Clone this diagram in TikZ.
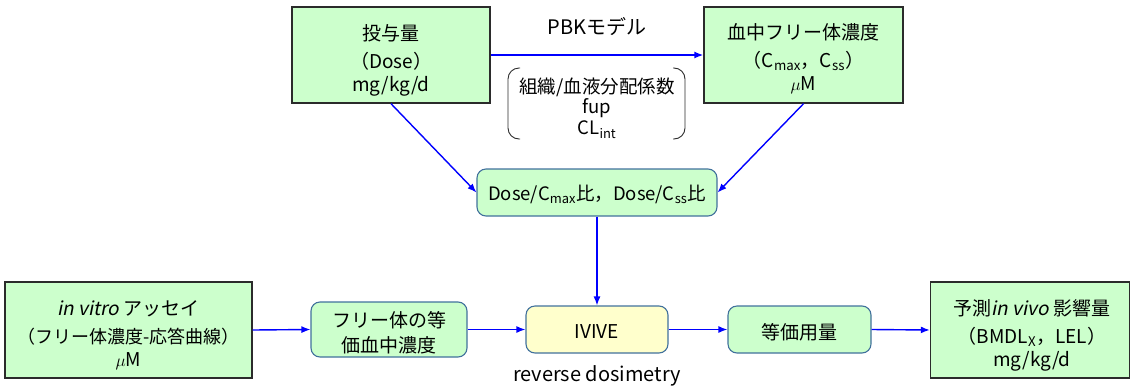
\documentclass[tikz,border=0pt]{standalone}
\usepackage{fontspec}
\setmainfont{Noto Sans CJK JP}
\newfontfamily\slantjp{Noto Sans CJK JP}[FakeSlant=0.2]
\usetikzlibrary{arrows.meta}
\definecolor{boxgreen}{HTML}{CCFFCC}
\definecolor{boxyellow}{HTML}{FFFFCC}
\definecolor{rimblue}{HTML}{41719C}
\definecolor{rimdark}{HTML}{2B2B2B}
\definecolor{flowblue}{HTML}{0000FF}
\newcommand{\iv}[1]{{\slantjp #1}}
\begin{document}
\begin{tikzpicture}[x=1pt,y=-1pt,
  font=\fontsize{19pt}{23pt}\selectfont,
  squarebox/.style={draw=rimdark,line width=1.4pt,fill=boxgreen,inner sep=0pt},
  roundbox/.style={draw=rimblue,line width=1.1pt,fill=boxgreen,
    rounded corners=9pt,inner sep=0pt},
  boxtext/.style={align=center,inner sep=0pt},
  flow/.style={draw=flowblue,line width=1.4pt,
    -{Latex[length=9pt,width=7pt]}}]
\useasboundingbox (0,0) rectangle (1132,389);

% upper row
\node[squarebox,minimum width=198pt,minimum height=96pt] (dose) at (391,55) {};
\node[boxtext] (dosetext) at (391,60)
  {投与量\\[5pt]（Dose）\\mg/kg/d};
\node[squarebox,minimum width=199pt,minimum height=96pt] (blood) at (803.5,55) {};
\node[boxtext] (bloodtext) at (803.5,59)
  {血中フリー体濃度\\[5pt]（C\textsubscript{max}，C\textsubscript{ss}）\\$\mu$M};

% model parameters between the upper boxes
\node[font=\fontsize{20pt}{24pt}\selectfont] (pbk) at (597,27) {PBKモデル};
\node[boxtext,font=\fontsize{18.5pt}{20.5pt}\selectfont] (params) at (597,108)
  {組織/血液分配係数\\fup\\CL\textsubscript{int}};
\draw[rimdark,line width=0.9pt,rounded corners=11pt]
  (520,68) -- (508,68) -- (508,139) -- (520,139);
\draw[rimdark,line width=0.9pt,rounded corners=11pt]
  (673,68) -- (685,68) -- (685,139) -- (673,139);

% ratio box
\node[roundbox,minimum width=240pt,minimum height=47pt] (ratio) at (597,192.5) {};
\node[boxtext,font=\fontsize{18.5pt}{22pt}\selectfont] (ratiotext) at (597,194.5)
  {Dose/C\textsubscript{max}比，Dose/C\textsubscript{ss}比};

% lower row
\node[squarebox,minimum width=247pt,minimum height=96pt] (invitro) at (128.5,330) {};
\node[boxtext] (invitrotext) at (128.5,335)
  {\iv{in vitro} アッセイ\\[5pt]{\fontsize{18pt}{22pt}\selectfont（フリー体濃度-応答曲線）}\\$\mu$M};
\node[roundbox,minimum width=156pt,minimum height=55pt] (free) at (389,329.5) {};
\node[boxtext,font=\fontsize{19pt}{25pt}\selectfont] (freetext) at (389,333)
  {フリー体の等\\価血中濃度};
\node[roundbox,fill=boxyellow,minimum width=142pt,minimum height=47pt] (ivive) at (597,329.5) {};
\node[boxtext] (ivivetext) at (597,332) {IVIVE};
\node[font=\fontsize{20pt}{24pt}\selectfont] (rev) at (597,376) {reverse dosimetry};
\node[roundbox,minimum width=143pt,minimum height=47pt] (equiv) at (799.5,329.5) {};
\node[boxtext] (equivtext) at (799.5,332) {等価用量};
\node[squarebox,minimum width=199pt,minimum height=96pt] (pred) at (1030,330) {};
\node[boxtext] (predtext) at (1032,335)
  {予測\iv{in vivo} 影響量\\[5pt]（BMDL\textsubscript{X}，LEL）\\mg/kg/d};

% connectors
\draw[flow] (dose.east) -- (blood.west);
\draw[flow] (dose.south) -- (ratio.west);
\draw[flow] (blood.south) -- (ratio.east);
\draw[flow] (ratio.south) -- (ivive.north);
\draw[flow] (invitro.east) -- (free.west);
\draw[flow] (free.east) -- (ivive.west);
\draw[flow] (ivive.east) -- (equiv.west);
\draw[flow] (equiv.east) -- (pred.west);
\end{tikzpicture}
\end{document}
